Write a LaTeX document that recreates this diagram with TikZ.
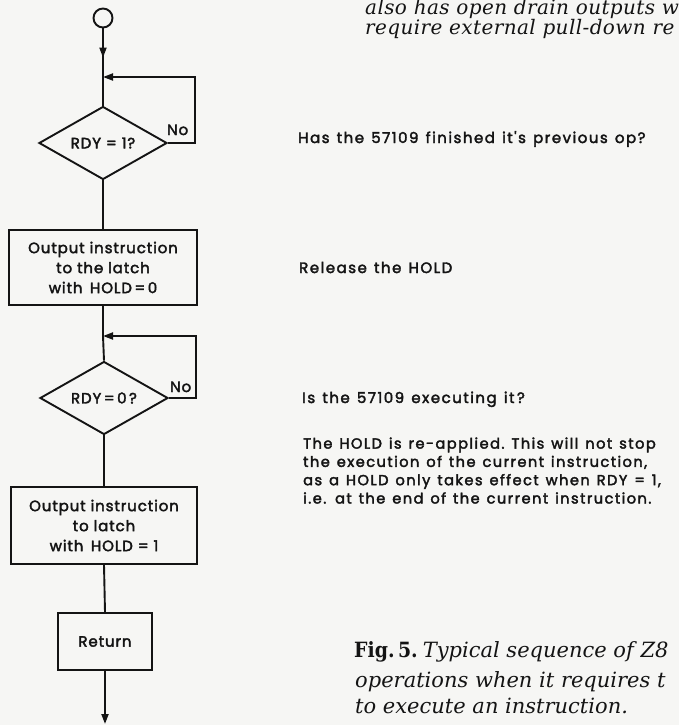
\documentclass[tikz,border=0pt]{standalone}
\usepackage{fontspec}
\setmainfont{DejaVu Serif}
\newfontfamily\chartfont{Poppins}[FakeBold=2.5,LetterSpace=6]
\newfontfamily\notefont{Poppins}[FakeBold=2.5,LetterSpace=10,WordSpace=1.3]
\newfontfamily\prosefont{DejaVu Serif}[LetterSpace=2]
\newfontfamily\figfont{DejaVu Serif Condensed}
\usetikzlibrary{shapes.geometric,arrows.meta,decorations.markings}
\definecolor{paper}{RGB}{246,246,244}
\definecolor{ink}{RGB}{20,20,20}
\begin{document}
\begin{tikzpicture}[x=1pt,y=-1pt,
  tip/.style={-{Triangle[length=10pt,width=7pt]}},
  midtip/.style={postaction={decorate},decoration={markings,
      mark=at position 0.6 with {\arrow{Triangle[length=10pt,width=7pt]}}}},
  wire/.style={draw=ink,line width=1.9pt},
  chart/.style={font=\chartfont\fontsize{15}{20}\selectfont,text=ink},
  stepbox/.style={chart,draw=ink,line width=1.9pt,rectangle,align=center,inner sep=0pt},
  decision/.style={chart,draw=ink,line width=1.9pt,diamond,aspect=1.75,inner sep=0pt,
      minimum width=128pt,minimum height=73pt},
  term/.style={draw=ink,line width=1.9pt,circle,minimum size=19pt,inner sep=0pt},
  nolabel/.style={chart,anchor=base west,inner sep=0pt},
  note/.style={font=\notefont\fontsize{15}{18.3}\selectfont,text=ink,anchor=base west,
      align=left,inner sep=0pt},
  para/.style={note,font=\notefont\fontsize{14.6}{18.3}\selectfont},
  prose/.style={font=\prosefont\itshape\fontsize{20}{20}\selectfont,text=ink,anchor=base west,inner sep=0pt},
  capt/.style={font=\fontsize{21}{26.5}\selectfont,text=ink,anchor=base west,inner sep=0pt}
]
\useasboundingbox (0,0) rectangle (679,725);
\clip (0,0) rectangle (679,725);
\fill[paper] (0,0) rectangle (679,725);

% flowchart
\node[term] (start) at (103,18) {};
\coordinate (j1) at (103,77);
\node[decision] (d1) at (103,143) {RDY = 1?};
\coordinate (l1a) at (195,143);
\coordinate (l1b) at (195,77);
\node[stepbox,minimum width=188pt,minimum height=75pt] (b1) at (103,267.5)
  {Output instruction\\to the latch\\with\enspace HOLD\,=\,0};
\coordinate (j2) at (103,336);
\node[decision] (d2) at (104,398) {RDY\,=\,0\,?};
\coordinate (l2a) at (196,398);
\coordinate (l2b) at (196,336);
\node[stepbox,minimum width=186pt,minimum height=77pt] (b2) at (104,525.5)
  {Output instruction\\to latch\\with\enspace HOLD = 1};
\node[stepbox,minimum width=94pt,minimum height=57pt] (ret) at (105,641.5) {Return};
\coordinate (end) at (105,724);

\path[wire,midtip] (start) -- (j1);
\path[wire] (j1) -- (d1.north);
\path[wire,tip] (d1.east) -- (l1a) -- (l1b) -- (j1);
\path[wire] (d1.south) -- (b1.north);
\path[wire] (b1.south) -- (j2) -- (d2.north);
\path[wire,tip] (d2.east) -- (l2a) -- (l2b) -- (j2);
\path[wire] (d2.south) -- (b2.north);
\path[wire] (b2.south) -- (ret.north);
\path[wire,tip] (ret.south) -- (end);

\node[nolabel] (no1) at (167,135) {No};
\node[nolabel] (no2) at (170,392) {No};

% notes
\node[note] (n1) at (298,143) {Has the 57109 finished it's previous op?};
\node[note] (n2) at (299,273) {Release the HOLD};
\node[note] (n3) at (302,403) {Is the 57109 executing it\,?};
\node[para] (n4) at (303,503.5) {The HOLD is re-applied.\ This will not stop\\
the execution of the current instruction,\\
as a HOLD only takes effect when RDY = 1,\\
i.e. at the end of the current instruction.};

% surrounding article text
\node[prose] (p1) at (365,15) {also has open drain outputs w};
\node[prose] (p2) at (365,35) {require external pull-down re};
\node[capt] (c1) at (354,657) {{\figfont\bfseries Fig.\,5.}\hspace{5pt}\textit{Typical sequence of Z8}};
\node[capt] (c2) at (355,687) {\textit{operations when it requires t}};
\node[capt] (c3) at (355,713) {\textit{to execute an instruction.}};
\end{tikzpicture}
\end{document}
